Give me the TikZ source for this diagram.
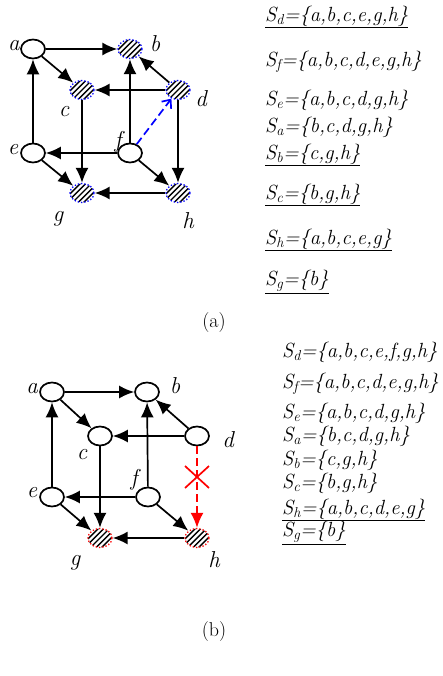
\documentclass[tikz,border=0pt]{standalone}
\usetikzlibrary{shapes.geometric,arrows.meta}
\begin{document}
\begin{tikzpicture}[x=1pt,y=-1pt,
  vtx/.style={ellipse,draw,line width=1.7pt,minimum width=24pt,minimum height=19pt,inner sep=0pt,fill=white},
  hatchfill/.style={path picture={
    \foreach \i in {-4,...,4}
      \draw[line width=1.4pt,solid,black] ([shift={(\i*5.6pt-15pt,-15pt)}]path picture bounding box.center) -- ++(30pt,30pt);}},
  hatchb/.style={ellipse,draw=blue,dotted,line width=1.3pt,minimum width=24pt,minimum height=19pt,inner sep=0pt,fill=white,hatchfill},
  hatchr/.style={ellipse,draw=red,dotted,line width=1.3pt,minimum width=24pt,minimum height=19pt,inner sep=0pt,fill=white,hatchfill},
  arr/.style={line width=1.7pt,-{Latex[length=15pt,width=13pt]}},
  lbl/.style={font=\fontsize{23}{25}\selectfont\itshape,inner sep=0pt},
  setl/.style={font=\fontsize{20.5}{22}\selectfont\itshape,anchor=west,inner sep=0pt},
  captxt/.style={font=\fontsize{20}{22}\selectfont,inner sep=0pt}]
\useasboundingbox (0,0) rectangle (443,676);
% ---------- (a) ----------
\node[vtx] (a1) at (33,49) {};
\node[hatchb] (b1) at (130,49) {};
\node[hatchb] (c1) at (82,90) {};
\node[hatchb] (d1) at (178,90) {};
\node[vtx] (e1) at (33,153) {};
\node[vtx] (f1) at (130,153) {};
\node[hatchb] (g1) at (82,193) {};
\node[hatchb] (h1) at (178,193) {};
\node[lbl] (la1) at (14,46) {a};
\node[lbl] (lb1) at (155,44) {b};
\node[lbl] (lc1) at (64,112) {c};
\node[lbl] (ld1) at (201,99) {d};
\node[lbl] (le1) at (13,150) {e};
\node[lbl] (lf1) at (118,142) {f};
\node[lbl] (lg1) at (58,219) {g};
\node[lbl] (lh1) at (188,221) {h};
\draw[arr] (a1) -- (b1);
\draw[arr] (a1) -- (c1);
\draw[arr] (e1) -- (a1);
\draw[arr] (d1) -- (c1);
\draw[arr] (f1) -- (b1);
\draw[arr] (d1) -- (b1);
\draw[arr] (d1) -- (h1);
\draw[arr] (f1) -- (e1);
\draw[arr] (c1) -- (g1);
\draw[arr] (e1) -- (g1);
\draw[arr] (f1) -- (h1);
\draw[arr] (h1) -- (g1);
\draw[blue,dash pattern=on 8pt off 4pt,line width=1.7pt,-{Straight Barb[length=7pt,width=12pt]}] (f1) -- (d1);
\node[setl] (s1) at (265,17) {\underline{S\textsubscript{d}=\{a,b,c,e,g,h\}}};
\node[setl] (s2) at (265,62) {S\textsubscript{f}=\{a,b,c,d,e,g,h\}};
\node[setl] (s3) at (265,100) {S\textsubscript{e}=\{a,b,c,d,g,h\}};
\node[setl] (s4) at (265,127) {S\textsubscript{a}=\{b,c,d,g,h\}};
\node[setl] (s5) at (265,155) {\underline{S\textsubscript{b}=\{c,g,h\}}};
\node[setl] (s6) at (265,195) {\underline{S\textsubscript{c}=\{b,g,h\}}};
\node[setl] (s7) at (265,240) {\underline{S\textsubscript{h}=\{a,b,c,e,g\}}};
\node[setl] (s8) at (265,282) {\underline{S\textsubscript{g}=\{b\}}};
\node[captxt] (capa) at (214,323) {(a)};
% ---------- (b) ----------
\node[vtx] (a2) at (52,392) {};
\node[vtx] (b2) at (147,392) {};
\node[vtx] (c2) at (100,436) {};
\node[vtx] (d2) at (197,436) {};
\node[vtx] (e2) at (52,497) {};
\node[vtx] (f2) at (148,497) {};
\node[hatchr] (g2) at (100,538) {};
\node[hatchr] (h2) at (197,538) {};
\node[lbl] (la2) at (32,389) {a};
\node[lbl] (lb2) at (175,386) {b};
\node[lbl] (lc2) at (82,455) {c};
\node[lbl] (ld2) at (228,440) {d};
\node[lbl] (le2) at (32,493) {e};
\node[lbl] (lf2) at (134,480) {f};
\node[lbl] (lg2) at (75,563) {g};
\node[lbl] (lh2) at (214,560) {h};
\draw[arr] (a2) -- (b2);
\draw[arr] (a2) -- (c2);
\draw[arr] (e2) -- (a2);
\draw[arr] (d2) -- (c2);
\draw[arr] (f2) -- (b2);
\draw[arr] (d2) -- (b2);
\draw[arr] (f2) -- (e2);
\draw[arr] (c2) -- (g2);
\draw[arr] (e2) -- (g2);
\draw[arr] (f2) -- (h2);
\draw[arr] (h2) -- (g2);
\draw[red,dash pattern=on 8pt off 4pt,line width=1.7pt,-{Latex[length=15pt,width=13pt]}] (d2) -- (h2);
\coordinate (x2) at (197,477);
\draw[red,line width=1.7pt] ([shift={(-12,-11)}]x2) -- ([shift={(12,11)}]x2);
\draw[red,line width=1.7pt] ([shift={(12,-11)}]x2) -- ([shift={(-12,11)}]x2);
\node[setl] (t1) at (282,352) {S\textsubscript{d}=\{a,b,c,e,f,g,h\}};
\node[setl] (t2) at (282,384) {S\textsubscript{f}=\{a,b,c,d,e,g,h\}};
\node[setl] (t3) at (282,413) {S\textsubscript{e}=\{a,b,c,d,g,h\}};
\node[setl] (t4) at (282,436) {S\textsubscript{a}=\{b,c,d,g,h\}};
\node[setl] (t5) at (282,460) {S\textsubscript{b}=\{c,g,h\}};
\node[setl] (t6) at (282,483) {S\textsubscript{c}=\{b,g,h\}};
\node[setl] (t7) at (282,510) {\underline{S\textsubscript{h}=\{a,b,c,d,e,g\}}};
\node[setl] (t8) at (282,533) {\underline{S\textsubscript{g}=\{b\}}};
\node[captxt] (capb) at (214,632) {(b)};
\end{tikzpicture}
\end{document}
